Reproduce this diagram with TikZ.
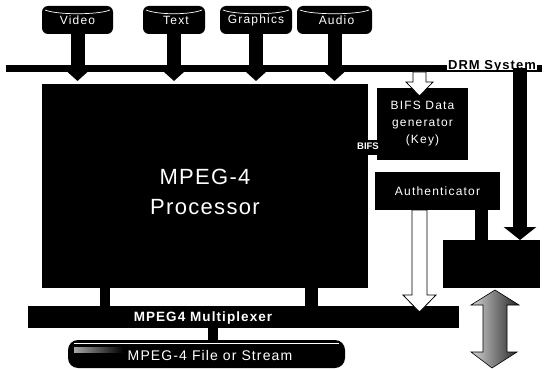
\documentclass[tikz,border=0pt]{standalone}
\usepackage{fontspec}
\setmainfont{Liberation Sans}
\usetikzlibrary{arrows.meta,calc}
\begin{document}
\begin{tikzpicture}[x=1pt,y=-1pt,
  blk/.style={fill=black, draw=none, inner sep=0pt, outer sep=0pt},
  lbl/.style={text=white, font=\fontsize{12}{17}\selectfont\addfontfeatures{LetterSpace=10}},
  drum/.style={blk, rounded corners=6pt, lbl},
  down/.style={line width=14pt, -{Triangle[width=28pt,length=13pt]}},
  hollow/.style={fill=white, draw=black, line width=0.8pt, line join=miter}
]
\useasboundingbox (0,0) rectangle (544,369);

% source drums
\node[drum, minimum width=71pt, minimum height=28pt] (video) at (77.5,20) {Video};
\node[drum, minimum width=62pt, minimum height=28pt] (text) at (174,20) {\hspace{4pt}Text};
\node[drum, minimum width=72pt, minimum height=28pt] (graphics) at (256,20) {Graphics};
\node[drum, minimum width=75pt, minimum height=28pt] (audio) at (334.5,20) {\hspace{4pt}Audio};
\foreach \n in {video,text,graphics,audio}{
  \draw[white, line width=0.7pt] ($(\n.north west)+(3,4)$) .. controls ($(\n.north west)+(15,9)$) and ($(\n.north east)+(-15,9)$) .. ($(\n.north east)+(-3,4)$);
}

% DRM bus
\coordinate (busL) at (6,68.5);
\coordinate (busR) at (542,68.5);
\coordinate (tipY) at (0,81);
\draw[line width=7pt] (busL) -- (busR);
\node[fill=white, inner xsep=1pt, inner ysep=0.6pt, text depth=0pt, font=\bfseries\fontsize{13}{13}\selectfont\addfontfeatures{LetterSpace=8}] (drmlabel) at (492,64.5) {DRM System};

\foreach \n in {video,text,graphics,audio}{
  \draw[down] (\n.south) -- (\n.south |- tipY);
}

% processor
\node[blk, minimum width=326pt, minimum height=204pt, anchor=north west] (proc) at (42,84) {};
\node[text=white, align=center, font=\fontsize{22}{30}\selectfont\addfontfeatures{LetterSpace=6}] (proctext) at (205,192) {MPEG-4\\Processor};

% BIFS data generator
\node[blk, lbl, align=center, minimum width=91pt, minimum height=72pt] (bifs) at (422.5,124) {BIFS Data\\generator\\(Key)};
\coordinate (bifsY) at (0,147.5);
\draw[line width=15pt] (proc.east |- bifsY) -- (bifs.west |- bifsY);
\node[text=white, font=\bfseries\fontsize{9.5}{10}\selectfont] (bifslabel) at (368,146.5) {BIFS};
% hollow arrow from bus into BIFS box
\draw[hollow] (413,72) -- (426,72) -- (426,82) -- (433,82) -- (419.5,96) -- (406,82) -- (413,82) -- cycle;

% authenticator
\node[blk, lbl, minimum width=125pt, minimum height=38pt] (auth) at (437.5,191) {Authenticator};

% lower right box
\node[blk, minimum width=97pt, minimum height=48pt] (drmbox) at (491.5,264) {};
\coordinate (c1) at (481.5,0);
\draw[line width=13pt] (auth.south -| c1) -- (drmbox.north -| c1);
\coordinate (c2) at (520,0);
\draw[line width=14pt, -{Triangle[width=32pt,length=13pt]}] (busL -| c2) -- (drmbox.north -| c2);

% multiplexer
\node[blk, minimum width=431pt, minimum height=22pt] (mux) at (243.5,317) {};
\node[text=white, font=\bfseries\fontsize{13.5}{14}\selectfont\addfontfeatures{LetterSpace=8}] (muxtext) at (203,318) {MPEG4 Multiplexer};
\coordinate (m1) at (105,0);
\coordinate (m2) at (311.5,0);
\draw[line width=10pt] (proc.south -| m1) -- (mux.north -| m1);
\draw[line width=13pt] (proc.south -| m2) -- (mux.north -| m2);

% hollow arrow authenticator -> multiplexer
\draw[hollow] (412,210) -- (427,210) -- (427,295) -- (436,295) -- (419.5,312) -- (403,295) -- (412,295) -- cycle;

% file or stream drum
\node[blk, rounded corners=10pt, minimum width=277pt, minimum height=28pt] (file) at (206.5,354) {};
\coordinate (m3) at (213,0);
\draw[line width=10pt] (mux.south -| m3) -- (file.north -| m3);
\draw[white, line width=0.7pt] ($(file.north west)+(6,3)$) -- ($(file.north east)+(-6,3)$);
\shade[left color=gray!70, right color=black] ($(file.north west)+(6,7)$) rectangle ($(file.north west)+(55,12)$);
\node[lbl, font=\fontsize{14}{15}\selectfont\addfontfeatures{LetterSpace=8}] (filetext) at (210,355) {MPEG-4 File or Stream};

% double arrow
\shade[left color=gray!35, right color=black!85, draw=black, line width=0.6pt]
  (495,290) -- (519,305) -- (507,305) -- (507,352) -- (517,352) -- (492,368) -- (471,352) -- (483,352) -- (483,305) -- (471,305) -- cycle;
\end{tikzpicture}
\end{document}
